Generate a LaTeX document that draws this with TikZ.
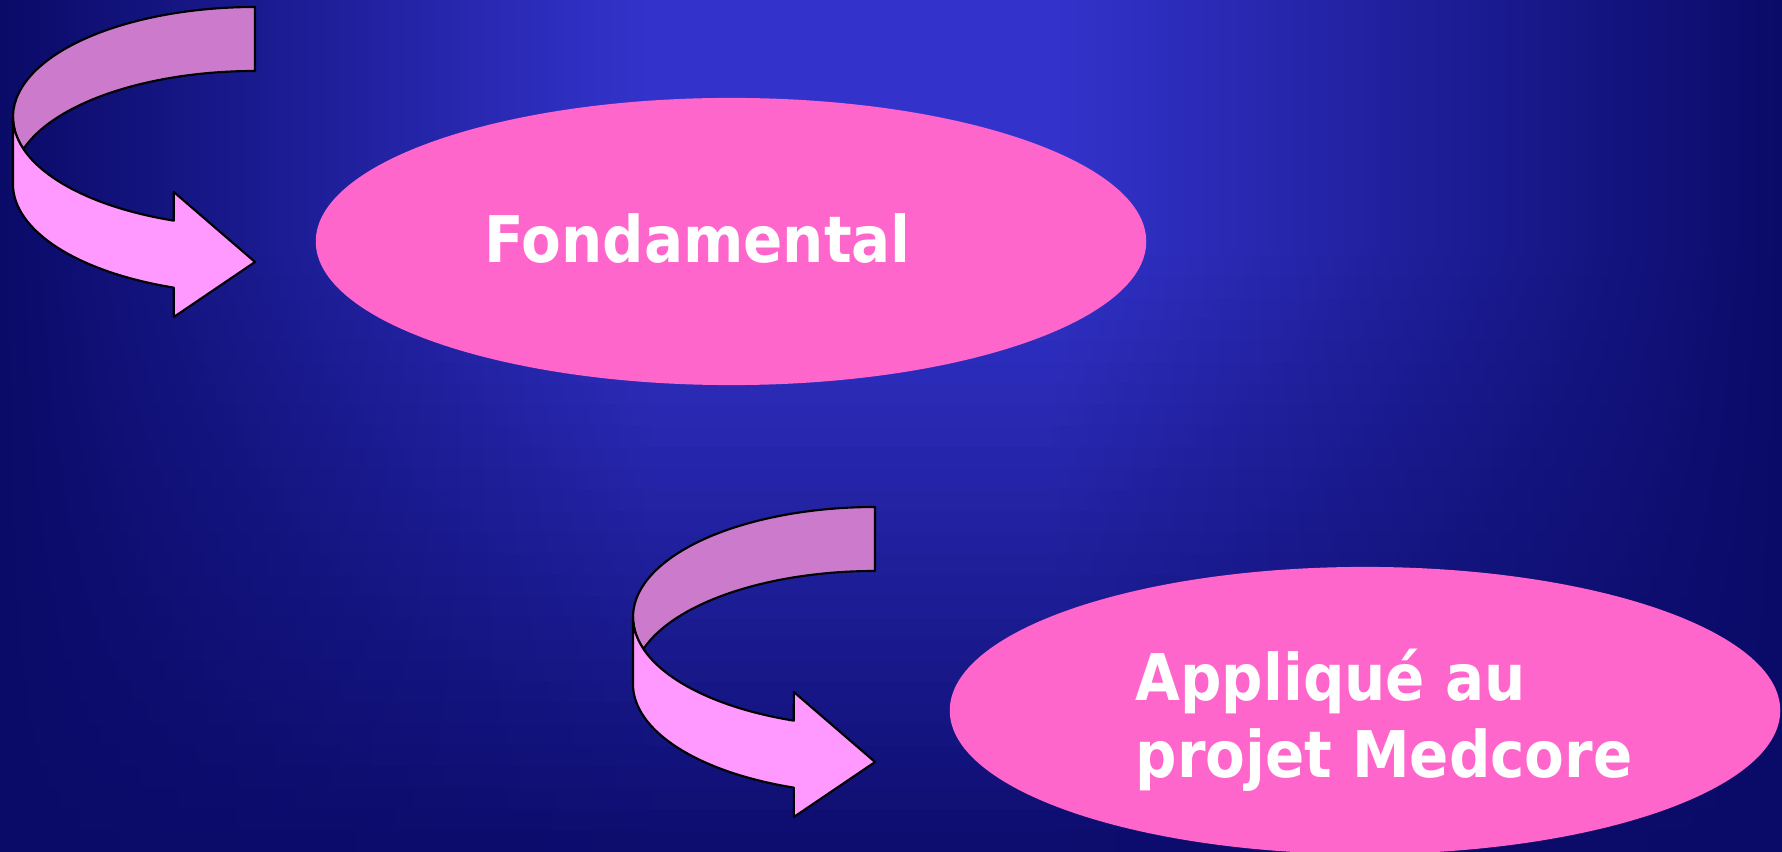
\documentclass[tikz,border=0pt]{standalone}
\usepackage{fontspec}
\newfontfamily\slidefont{DejaVu Sans Condensed}
\usepackage{xcolor}
\usetikzlibrary{shapes.geometric}
\definecolor{slidenavy}{RGB}{10,10,104}
\definecolor{slideglow}{RGB}{51,51,204}
\definecolor{ovalpink}{RGB}{255,102,204}
\definecolor{bandtop}{RGB}{204,122,204}
\definecolor{bandlow}{RGB}{255,153,255}

\begin{document}
\begin{tikzpicture}[
        x=0.01cm, y=-0.01cm,
        oval/.style={ellipse, fill=ovalpink, inner sep=0pt, minimum width=8.3cm, minimum height=2.87cm},
        slidetext/.style={text=white, inner sep=0pt, anchor=base west, align=left,
            font=\slidefont\bfseries\fontsize{18.3}{21.8}\selectfont},
        bandline/.style={draw=black, line width=0.6pt, line join=round},
        uturn/.pic={
            % back of the ribbon
            \draw[bandline, fill=bandtop] (255,7) arc[start angle=270, end angle=163.7, x radius=242, y radius=110]
                -- (24.2,147.9) arc[start angle=197.5, end angle=270, x radius=242, y radius=110] -- cycle;
            % front of the ribbon with the head
            \draw[bandline, fill=bandlow] (22.7,147.9) arc[start angle=163.7, end angle=109.6, x radius=242, y radius=110]
                -- (173.8,192) -- (255,262) -- (173.8,317) -- (173.8,287.6)
                arc[start angle=109.6, end angle=180, x radius=242, y radius=110]
                -- (13,117) arc[start angle=180, end angle=163.7, x radius=242, y radius=110] -- cycle;
        }
    ]
        \useasboundingbox (0,0) rectangle (1782,852);
        \clip (0,0) rectangle (1782,852);

        % Background
        \foreach \i in {0,...,39} {
            \pgfmathsetmacro\rowy{\i*21.3}
            \pgfmathsetmacro\p{max(5,min(100,100-(\rowy+10.65-250)/602*95))}
            \colorlet{rowblue}{slideglow!\p!slidenavy}
            \fill[rowblue] (649,\rowy) rectangle (1051,\rowy+22.3);
            \shade[left color=slidenavy, right color=rowblue] (0,\rowy) rectangle (650,\rowy+22.3);
            \shade[left color=rowblue, right color=slidenavy] (1050,\rowy) rectangle (1782,\rowy+22.3);
        }

        \node[oval] (fond) at (731,241.5) {};
        \node[oval] (medcore) at (1365,710.5) {};

        \node[slidetext] (fondtext) at (484,263) {Fondamental};
        % base of a two-line node sits on its last line
        \node[slidetext] (medtext) at (1135,777.2) {Appliqué au\\projet Medcore};

        \pic at (0,0) {uturn};
        \pic at (620,500) {uturn};
    \end{tikzpicture}
\end{document}
